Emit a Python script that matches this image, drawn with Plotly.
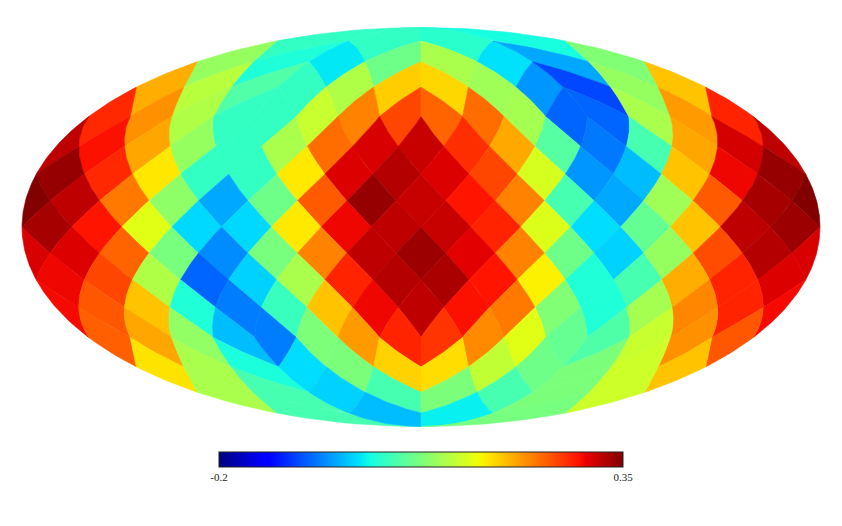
import math
import numpy as np
import plotly.graph_objects as go
from plotly.colors import sample_colorscale

VMIN, VMAX = -0.2, 0.35
tick_vals = [-0.2, 0.35]
tick_text = ["-0.2", "0.35"]
NSIDE = 4

# HEALPix map values, ring by ring from the north pole, left to right in the picture.
# Rings 5, 7, 9, 11 start with the pixel cut in two by the map edge.
ring_01 = [0.026, 0.026, 0.02, 0.008]
ring_02 = [0.093, 0.012, -0.006, 0.066, 0.106, -0.01, -0.04, 0.079]
ring_03 = [0.199, 0.116, 0.046, 0.027, 0.11, 0.181, 0.175, 0.099, -0.05, -0.093, 0.093, 0.187]
ring_04 = [0.277, 0.216, 0.11, 0.027, 0.027, 0.126, 0.225, 0.26, 0.242, 0.237, 0.103, -0.077, -0.077, 0.106, 0.21, 0.28]
ring_05 = [0.32, 0.291, 0.204, 0.093, 0.026, 0.106, 0.237, 0.308, 0.316, 0.274, 0.202, 0.05, -0.066, 0.039, 0.204, 0.31]
ring_06 = [0.339, 0.277, 0.166, 0.026, 0.026, 0.165, 0.306, 0.325, 0.306, 0.26, 0.136, -0.05, -0.029, 0.187, 0.297, 0.339]
ring_07 = [0.349, 0.32, 0.23, 0.088, -0.04, 0.066, 0.248, 0.339, 0.316, 0.289, 0.225, 0.039, -0.04, 0.099, 0.248, 0.332]
ring_08 = [0.332, 0.289, 0.143, -0.014, -0.014, 0.165, 0.297, 0.32, 0.316, 0.28, 0.14, -0.012, 0.059, 0.187, 0.32, 0.336]
ring_09 = [0.308, 0.306, 0.242, 0.073, -0.056, 0.073, 0.225, 0.32, 0.336, 0.303, 0.225, 0.066, -0.018, 0.093, 0.256, 0.325]
ring_10 = [0.297, 0.26, 0.11, -0.077, -0.018, 0.106, 0.28, 0.325, 0.33, 0.289, 0.16, 0.013, 0.039, 0.199, 0.28, 0.306]
ring_11 = [0.295, 0.25, 0.187, 0.013, -0.064, 0.03, 0.187, 0.297, 0.32, 0.291, 0.23, 0.079, 0.013, 0.103, 0.222, 0.28]
ring_12 = [0.245, 0.204, 0.09, -0.029, -0.064, 0.076, 0.21, 0.28, 0.27, 0.22, 0.143, 0.06, 0.045, 0.126, 0.216, 0.25]
ring_13 = [0.168, 0.106, 0.01, -0.012, 0.075, 0.178, 0.172, 0.122, 0.066, 0.075, 0.13, 0.187]
ring_14 = [0.106, 0.04, -0.018, 0.039, 0.075, 0.04, 0.075, 0.13]
ring_15 = [0.04, -0.029, -0.002, 0.072]
rings = [ring_01, ring_02, ring_03, ring_04, ring_05, ring_06, ring_07, ring_08,
         ring_09, ring_10, ring_11, ring_12, ring_13, ring_14, ring_15]

# matplotlib "jet"
jet = [[0.0, "rgb(0,0,128)"], [0.11, "rgb(0,0,255)"], [0.125, "rgb(0,0,255)"], [0.34, "rgb(0,219,255)"],
       [0.35, "rgb(0,230,247)"], [0.375, "rgb(21,255,226)"], [0.64, "rgb(238,255,8)"], [0.65, "rgb(247,246,0)"],
       [0.66, "rgb(255,236,0)"], [0.89, "rgb(255,19,0)"], [0.91, "rgb(232,0,0)"], [1.0, "rgb(128,0,0)"]]


def mollweide(z, phi):
    lo, hi = -math.pi / 2, math.pi / 2
    target = math.pi * z
    for _ in range(50):
        mid = (lo + hi) / 2
        if 2 * mid + math.sin(2 * mid) < target:
            lo = mid
        else:
            hi = mid
    th = (lo + hi) / 2
    return phi / math.pi * math.cos(th), math.sin(th)


def to_sphere(xs, ys, xc):
    if abs(ys) <= math.pi / 4 + 1e-12:
        return 8 * ys / (3 * math.pi), xs
    sigma = 2 - 4 * abs(ys) / math.pi
    z = math.copysign(1 - sigma * sigma / 3, ys)
    return z, xc if sigma < 1e-9 else xc + (xs - xc) / sigma


def outline(xs0, ys0, xc, clamp=None):
    h = math.pi / (2 * NSIDE) / 2
    corners = [(xs0, ys0 + h), (xs0 + h, ys0), (xs0, ys0 - h), (xs0 - h, ys0), (xs0, ys0 + h)]
    px, py = [], []
    for (a, b), (c, d) in zip(corners[:-1], corners[1:]):
        for t in np.linspace(0, 1, 14):
            z, phi = to_sphere(a + (c - a) * t, b + (d - b) * t, xc)
            if clamp is not None:
                phi = max(-math.pi, min(math.pi, phi))
            x, y = mollweide(z, phi)
            px.append(x)
            py.append(y)
    return px, py


def colour(v):
    return sample_colorscale(jet, [(v - VMIN) / (VMAX - VMIN)])[0]


fig = go.Figure()


def add_pixel(px, py, v):
    c = colour(v)
    fig.add_trace(go.Scatter(x=px, y=py, mode="lines", fill="toself", fillcolor=c,
                             line=dict(color=c, width=0.6), hoverinfo="skip", showlegend=False))


for idx, vals in enumerate(rings):
    i = idx + 1
    ys0 = math.pi / 4 * (2 - i / NSIDE)
    cap = min(i, 4 * NSIDE - i)
    if cap < NSIDE or i == NSIDE or i == 3 * NSIDE:
        for j, v in enumerate(vals):
            k = j // cap
            xc = -math.pi + math.pi / 4 + k * math.pi / 2
            xs0 = xc + (j - k * cap - (cap - 1) / 2) * math.pi / (2 * NSIDE)
            add_pixel(*outline(xs0, ys0, xc), v)
    else:
        cut = (i - NSIDE + 1) % 2 == 0
        for j, v in enumerate(vals):
            if cut:
                xs0 = -math.pi + j * math.pi / 8
                if j == 0:
                    add_pixel(*outline(-math.pi, ys0, 0, clamp=True), v)
                    add_pixel(*outline(math.pi, ys0, 0, clamp=True), v)
                    continue
            else:
                xs0 = -math.pi + (j + 0.5) * math.pi / 8
            add_pixel(*outline(xs0, ys0, 0), v)

# colour bar carried by an invisible trace on the value scale
all_vals = [v for r in rings for v in r]
fig.add_trace(go.Scatter(
    x=[0] * len(all_vals), y=[0] * len(all_vals), mode="markers", hoverinfo="skip", showlegend=False,
    marker=dict(size=0.1, opacity=0, color=all_vals, cmin=VMIN, cmax=VMAX, colorscale=jet,
                colorbar=dict(orientation="h", lenmode="fraction", len=404 / 842, x=219 / 842, xanchor="left",
                              y=46 / 526, yanchor="bottom", thicknessmode="pixels", thickness=15,
                              xpad=0, ypad=0, outlinecolor="#222222", outlinewidth=1, ticks="",
                              tickvals=tick_vals, ticktext=tick_text,
                              tickfont=dict(family="Liberation Serif", size=11, color="#222222")))))

SX, SY = 399.0, 199.5
CX, CY = 421.0, 227.0
fig.update_layout(
    width=842, height=526, margin=dict(l=0, r=0, t=0, b=0),
    paper_bgcolor="white", plot_bgcolor="white",
    xaxis=dict(range=[-CX / SX, (842 - CX) / SX], visible=False, fixedrange=True),
    yaxis=dict(range=[-(526 - CY) / SY, CY / SY], visible=False, fixedrange=True),
)
fig.write_html("out.html", config={"displayModeBar": False}, post_script="document.body.style.margin='0';")
